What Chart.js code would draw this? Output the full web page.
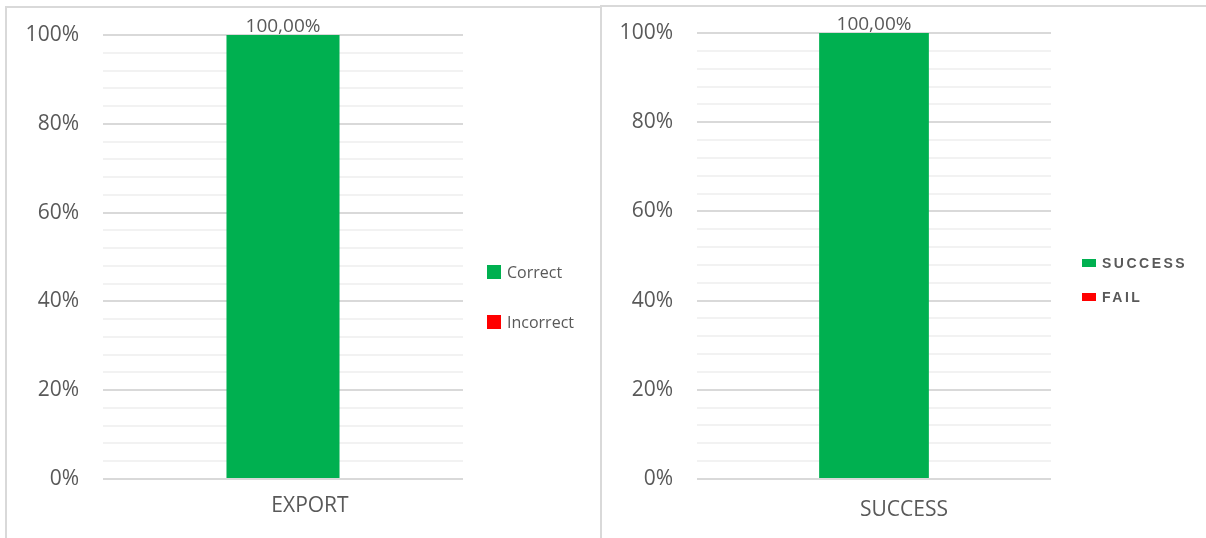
<!DOCTYPE html>
<html>
<head>
<meta charset="utf-8">
<script src="https://cdn.jsdelivr.net/npm/chart.js@4.4.1/dist/chart.umd.min.js"></script>
<style>
  body { margin: 0; background: #fff; width: 1206px; height: 538px; overflow: hidden; position: relative; }
  .panel { position: absolute; border: 2px solid #d9d9d9; border-bottom: none; background: #fff; }
  #leftPanel { left: 5px; top: 6px; width: 594px; height: 532px; }
  #rightPanel { left: 600px; top: 5px; width: 610px; height: 533px; }
  canvas { display: block; }
</style>
</head>
<body>
<div class="panel" id="leftPanel"><canvas id="exportChart" width="594" height="532"></canvas></div>
<div class="panel" id="rightPanel"><canvas id="successChart" width="606" height="533"></canvas></div>
<script>
// chart values
var exportLabels = ['EXPORT'];
var correctValues = [100];
var incorrectValues = [0];

var successLabels = ['SUCCESS'];
var successValues = [100];
var failValues = [0];

var majorTicks = [0, 20, 40, 60, 80, 100];
var minorStep = 4;

var GREEN = '#00b050';
var RED = '#ff0000';
var TEXT = '#595959';

// "100,00%" above the bars of datasets flagged with showValue
var valueLabels = {
    id: 'valueLabels',
    afterDatasetsDraw: function(chart) {
        var ctx = chart.ctx;
        ctx.save();
        ctx.font = '19px "Open Sans"';
        ctx.fillStyle = TEXT;
        ctx.textAlign = 'center';
        ctx.textBaseline = 'alphabetic';
        chart.data.datasets.forEach(function(ds, i) {
            if (!ds.showValue) return;
            chart.getDatasetMeta(i).data.forEach(function(bar, j) {
                var txt = ds.data[j].toFixed(2).replace('.', ',') + '%';
                ctx.fillText(txt, bar.x, bar.y - 3);
            });
        });
        ctx.restore();
    }
};

// legend drawn at a fixed spot to the right of the plot
var sideLegend = {
    id: 'sideLegend',
    afterDraw: function(chart, args, opts) {
        var ctx = chart.ctx;
        ctx.save();
        ctx.font = opts.font;
        ctx.letterSpacing = opts.spacing || '0px';
        ctx.textBaseline = 'middle';
        ctx.textAlign = 'left';
        chart.data.datasets.forEach(function(ds, i) {
            var y = opts.y + i * opts.gap;
            ctx.fillStyle = ds.backgroundColor;
            ctx.fillRect(opts.x, y - opts.boxH / 2, opts.boxW, opts.boxH);
            ctx.fillStyle = TEXT;
            ctx.fillText(ds.label, opts.x + opts.boxW + opts.textGap, y + 1);
        });
        ctx.restore();
    }
};

function buildOptions(yWidth, rightPad, topPad, xPad, xShift, legendOpts) {
    return {
        responsive: false,
        animation: false,
        layout: { padding: { left: 0, right: rightPad, top: topPad, bottom: 0 } },
        plugins: {
            legend: { display: false },
            tooltip: { enabled: false },
            sideLegend: legendOpts
        },
        scales: {
            x: {
                stacked: true,
                grid: { display: false },
                border: { display: false },
                ticks: {
                    color: TEXT,
                    font: { family: 'Open Sans', size: 21 },
                    padding: xPad,
                    labelOffset: xShift
                },
                afterFit: function(scale) { scale.height = 61; }
            },
            y: {
                stacked: true,
                min: 0,
                max: 100,
                border: { display: false },
                grid: {
                    drawTicks: false,
                    color: function(c) {
                        return majorTicks.indexOf(c.tick.value) >= 0 ? '#d9d9d9' : '#f2f2f2';
                    },
                    lineWidth: 2
                },
                ticks: {
                    stepSize: minorStep,
                    autoSkip: false,
                    color: TEXT,
                    font: { family: 'Open Sans', size: 21 },
                    padding: 24,
                    callback: function(v) {
                        return majorTicks.indexOf(v) >= 0 ? v + '%' : '';
                    }
                },
                afterFit: function(scale) {
                    // fixed axis width; top/bottom spacing comes from layout padding only
                    scale.width = yWidth;
                    scale.paddingTop = 0;
                    scale.paddingBottom = 0;
                }
            }
        }
    };
}

new Chart(document.getElementById('exportChart'), {
    type: 'bar',
    data: {
        labels: exportLabels,
        datasets: [
            { label: 'Correct', data: correctValues, backgroundColor: GREEN, showValue: true,
              barPercentage: 0.314, categoryPercentage: 1 },
            { label: 'Incorrect', data: incorrectValues, backgroundColor: RED,
              barPercentage: 0.314, categoryPercentage: 1 }
        ]
    },
    options: buildOptions(96, 138, 27, 6, 27, {
        x: 480, y: 264, gap: 50, boxW: 14, boxH: 14, textGap: 6,
        font: '16px "Open Sans"'
    }),
    plugins: [valueLabels, sideLegend]
});

new Chart(document.getElementById('successChart'), {
    type: 'bar',
    data: {
        labels: successLabels,
        datasets: [
            { label: 'SUCCESS', data: successValues, backgroundColor: GREEN, showValue: true,
              barPercentage: 0.31, categoryPercentage: 1 },
            { label: 'FAIL', data: failValues, backgroundColor: RED,
              barPercentage: 0.31, categoryPercentage: 1 }
        ]
    },
    options: buildOptions(95, 157, 26, 10, 30, {
        x: 480, y: 256, gap: 34, boxW: 14, boxH: 8, textGap: 6,
        font: 'bold 14px "Liberation Sans"', spacing: '2.5px'
    }),
    plugins: [valueLabels, sideLegend]
});
</script>
</body>
</html>
